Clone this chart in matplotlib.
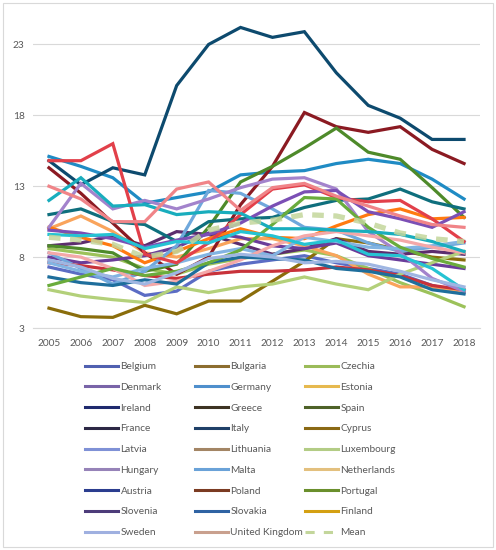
import matplotlib
matplotlib.use("Agg")
import matplotlib.pyplot as plt
from matplotlib.lines import Line2D
from matplotlib.patches import Rectangle

plt.rcParams['font.family'] = ['Lato', 'DejaVu Sans']

years = [2005, 2006, 2007, 2008, 2009, 2010, 2011, 2012, 2013, 2014, 2015, 2016, 2017, 2018]

countries = ["Belgium", "Bulgaria", "Czechia", "Denmark", "Germany", "Estonia",
             "Ireland", "Greece", "Spain", "France", "Italy", "Cyprus",
             "Latvia", "Lithuania", "Luxembourg", "Hungary", "Malta", "Netherlands",
             "Austria", "Poland", "Portugal", "Slovenia", "Slovakia", "Finland",
             "Sweden", "United Kingdom"]

belgium = [7.3, 6.8, 6.4, 5.3, 5.6, 7.0, 7.5, 7.8, 8.1, 7.6, 7.2, 6.8, 6.0, 5.5]
bulgaria = [4.4, 3.8, 3.75, 4.6, 4.0, 4.9, 4.9, 6.3, 7.7, 9.3, 9.0, 8.5, 8.0, 7.8]
czechia = [8.6, 8.3, 8.0, 7.2, 6.8, 7.5, 7.9, 8.2, 8.5, 8.1, 7.2, 6.2, 5.4, 4.5]
denmark = [8.8, 9.0, 9.5, 8.8, 9.8, 9.6, 8.9, 8.2, 8.6, 9.3, 8.4, 8.2, 8.4, 8.2]
germany = [15.1, 14.4, 13.6, 11.8, 12.2, 12.6, 13.8, 14.0, 14.1, 14.6, 14.9, 14.6, 13.5, 12.1]
estonia = [10.0, 10.9, 9.8, 8.3, 8.0, 8.6, 9.3, 9.3, 8.8, 8.1, 6.8, 5.9, 5.9, 5.6]
ireland = [14.8, 13.1, 14.3, 13.8, 20.1, 23.0, 24.2, 23.5, 23.9, 21.0, 18.7, 17.8, 16.3, 16.3]
greece = [14.3, 12.5, 10.4, 8.3, 6.8, 8.0, 11.7, 14.4, 18.2, 17.2, 16.8, 17.2, 15.6, 14.6]
spain = [8.8, 8.6, 8.3, 7.0, 7.5, 10.1, 13.3, 14.4, 15.7, 17.1, 15.4, 14.9, 12.9, 10.8]
france = [8.0, 7.6, 7.8, 8.1, 8.7, 9.7, 9.4, 8.8, 8.6, 9.0, 8.1, 7.8, 7.5, 7.2]
italy = [11.0, 11.4, 10.5, 10.3, 9.1, 10.5, 10.7, 10.8, 11.5, 12.0, 12.1, 12.8, 11.9, 11.4]
cyprus = [10.1, 9.4, 8.8, 7.6, 8.4, 9.3, 10.0, 9.4, 9.3, 10.2, 11.0, 11.4, 10.7, 10.8]
latvia = [8.3, 7.2, 6.1, 7.0, 8.8, 12.7, 12.5, 11.4, 10.1, 9.9, 9.0, 8.4, 8.7, 9.0]
lithuania = [7.6, 7.4, 7.1, 6.7, 6.5, 6.8, 7.0, 7.0, 7.1, 7.3, 7.1, 6.7, 6.0, 5.7]
luxembourg = [5.7, 5.25, 5.0, 4.8, 5.9, 5.5, 5.9, 6.1, 6.6, 6.1, 5.7, 6.8, 7.6, 8.4]
hungary = [10.1, 13.2, 11.4, 12.0, 11.4, 12.1, 12.9, 13.5, 13.6, 12.8, 9.8, 8.3, 6.5, 5.6]
malta = [7.6, 7.0, 6.6, 7.2, 7.6, 8.2, 8.6, 8.1, 9.4, 9.1, 8.7, 8.6, 8.8, 9.1]
netherlands = [8.3, 8.0, 7.2, 6.0, 6.3, 7.0, 7.8, 8.8, 9.5, 9.8, 9.5, 9.2, 8.7, 8.3]
austria = [6.6, 6.2, 6.0, 6.4, 6.1, 7.6, 8.0, 7.9, 7.8, 7.2, 7.0, 6.6, 5.7, 5.4]
poland = [14.8, 14.8, 16.0, 8.2, 7.6, 9.0, 11.0, 12.8, 13.1, 12.2, 11.9, 12.0, 10.7, 9.1]
portugal = [6.0, 6.6, 7.2, 6.7, 7.0, 7.6, 8.5, 10.3, 12.2, 12.1, 10.1, 8.7, 7.9, 7.3]
slovenia = [9.9, 9.7, 9.3, 8.7, 9.2, 9.6, 10.4, 11.6, 12.6, 12.7, 11.2, 10.7, 10.1, 11.2]
slovakia = [12.0, 13.6, 11.6, 11.7, 11.0, 11.2, 11.1, 10.0, 10.0, 9.9, 9.8, 9.6, 9.1, 8.4]
finland = [9.6, 9.5, 9.6, 8.6, 9.1, 9.0, 9.8, 9.5, 8.9, 9.2, 8.2, 8.1, 7.2, 5.7]
sweden = [7.8, 7.3, 6.5, 6.1, 6.9, 7.9, 8.2, 8.0, 7.6, 7.7, 7.5, 7.0, 6.4, 5.9]
united_kingdom = [13.0, 12.1, 10.5, 10.5, 12.8, 13.3, 11.3, 12.9, 13.2, 12.3, 11.6, 10.9, 10.3, 10.1]
mean = [9.4, 9.2, 8.9, 8.0, 8.4, 9.9, 10.4, 10.6, 11.0, 10.9, 10.4, 9.7, 9.3, 9.1]

series = [belgium, bulgaria, czechia, denmark, germany, estonia, ireland, greece, spain,
          france, italy, cyprus, latvia, lithuania, luxembourg, hungary, malta, netherlands,
          austria, poland, portugal, slovenia, slovakia, finland, sweden, united_kingdom]

line_colors = ['#5b6cc4', '#8a6d0b', '#9cc25a', '#5c2d6e', '#1f8bc4', '#f9a45c',
               '#0d4a6e', '#8b1a22', '#4e8a2a', '#6a3d9a', '#0f6f7d', '#ff7a10',
               '#6fa8dc', '#c8323a', '#b3d07a', '#a383cc', '#82b4e2', '#f4a8a8',
               '#1e6e9c', '#e2404a', '#6aac3c', '#7b4fb5', '#19adbd', '#25c3d3',
               '#9fb6e2', '#f08488']

legend_colors = ['#5060b0', '#8c6d2f', '#9bbb59', '#7964a8', '#4f8fcc', '#e6b94f',
                 '#1f2a6e', '#3d3323', '#4e6228', '#2c2845', '#1f4068', '#8a6914',
                 '#7f91d6', '#a38565', '#b3cc85', '#9683b8', '#6aa2d8', '#e3c07e',
                 '#2b3d8f', '#7b3b22', '#6a8f2c', '#4d3c7a', '#2f63a3', '#d4a012',
                 '#9fb0e0', '#c9a08e']
mean_color = '#c3d69b'

W, H = 496, 550
fig = plt.figure(figsize=(W / 100, H / 100), dpi=100)
ax = fig.add_axes([33 / W, 1 - 328 / H, (480 - 33) / W, (328 - 9) / H])

for vals, c in zip(series, line_colors):
    ax.plot(years, vals, color=c, lw=2.3, solid_joinstyle='miter')
ax.plot(years, mean, color=mean_color, lw=3.8, dashes=(2.2, 1.8), alpha=0.85)

ax.set_xlim(2004.5, 2018.5)
ax.set_ylim(3, 25.5)
ax.set_yticks([3, 8, 13, 18, 23])
ax.set_xticks(years)
ax.set_xticklabels([str(y) for y in years])
ax.yaxis.grid(True, color='#d9d9d9', lw=0.8)
ax.set_axisbelow(True)
for s in ['top', 'right', 'left']:
    ax.spines[s].set_visible(False)
ax.spines['bottom'].set_color('#d9d9d9')
ax.spines['bottom'].set_linewidth(0.8)
ax.tick_params(axis='both', length=0, labelsize=7.3, labelcolor='#595959')
ax.tick_params(axis='x', pad=8)
ax.tick_params(axis='y', pad=6)

# chart border
fig.patches.append(Rectangle((3 / W, 3 / H), (W - 6) / W, (H - 6) / H, transform=fig.transFigure,
                             fill=False, edgecolor='#d9d9d9', lw=0.8))

# legend: three columns, row-major order like the original
entries = [(Line2D([], [], color=c, lw=2.2), n) for n, c in zip(countries, legend_colors)]
entries.append((Line2D([], [], color=mean_color, lw=2.2, dashes=(3, 3)), "Mean"))
col_x = [85, 195, 305]
for k in range(3):
    col = entries[k::3]
    fig.legend([h for h, _ in col], [n for _, n in col], loc='upper left',
               bbox_to_anchor=(col_x[k] / W, 1 - 362 / H), frameon=False,
               fontsize=7.3, handlelength=3.3, handletextpad=0.2, labelspacing=1.15,
               borderpad=0, borderaxespad=0, labelcolor='#595959')

fig.savefig("out.png", dpi=100)
